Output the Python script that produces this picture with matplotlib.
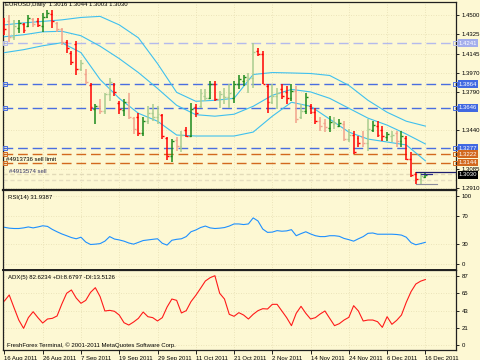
import numpy as np
import matplotlib.pyplot as plt
import matplotlib.transforms as mtransforms

plt.rcParams['font.family'] = ['Liberation Sans', 'DejaVu Sans']

# EURUSD daily, 16 Aug 2011 .. 16 Dec 2011 (bar index 0..88)
opens = [1.4440, 1.4440, 1.4300, 1.4380, 1.4420, 1.4400, 1.4460, 1.4440, 1.4400, 1.4480,
         1.4510, 1.4430, 1.4370, 1.4250, 1.4150, 1.4230, 1.4000, 1.3960, 1.3860, 1.3640,
         1.3660, 1.3620, 1.3770, 1.3860, 1.3690, 1.3630, 1.3700, 1.3550, 1.3560, 1.3420,
         1.3530, 1.3600, 1.3560, 1.3580, 1.3370, 1.3200, 1.3350, 1.3300, 1.3440, 1.3390,
         1.3650, 1.3660, 1.3760, 1.3740, 1.3870, 1.3730, 1.3760, 1.3750, 1.3740, 1.3870,
         1.3890, 1.3900, 1.3920, 1.4170, 1.4140, 1.3850, 1.3700, 1.3760, 1.3820, 1.3790,
         1.3740, 1.3800, 1.3560, 1.3620, 1.3660, 1.3610, 1.3530, 1.3510, 1.3460, 1.3500,
         1.3480, 1.3500, 1.3360, 1.3400, 1.3370, 1.3380, 1.3320, 1.3440, 1.3480, 1.3440,
         1.3380, 1.3390, 1.3420, 1.3340, 1.3370, 1.3180, 1.3040, 1.2990, 1.3016]
highs = [1.4473, 1.4500, 1.4455, 1.4455, 1.4427, 1.4500, 1.4473, 1.4473, 1.4518, 1.4548,
         1.4546, 1.4436, 1.4382, 1.4272, 1.4166, 1.4257, 1.4090, 1.3999, 1.3877, 1.3679,
         1.3725, 1.3786, 1.3923, 1.3877, 1.3710, 1.3725, 1.3786, 1.3558, 1.3603, 1.3558,
         1.3664, 1.3679, 1.3664, 1.3588, 1.3375, 1.3360, 1.3375, 1.3436, 1.3467, 1.3695,
         1.3679, 1.3816, 1.3816, 1.3892, 1.3892, 1.3801, 1.3832, 1.3862, 1.3892, 1.3953,
         1.3953, 1.3968, 1.4242, 1.4196, 1.4166, 1.3862, 1.3862, 1.3832, 1.3862, 1.3847,
         1.3862, 1.3847, 1.3679, 1.3786, 1.3679, 1.3649, 1.3558, 1.3543, 1.3573, 1.3558,
         1.3543, 1.3527, 1.3451, 1.3436, 1.3391, 1.3436, 1.3543, 1.3527, 1.3527, 1.3482,
         1.3421, 1.3436, 1.3436, 1.3436, 1.3391, 1.3239, 1.3056, 1.3056, 1.3044]
lows = [1.4318, 1.4254, 1.4272, 1.4336, 1.4336, 1.4391, 1.4391, 1.4391, 1.4345, 1.4473,
        1.4382, 1.4345, 1.4227, 1.4154, 1.4044, 1.3953, 1.3983, 1.3862, 1.3618, 1.3497,
        1.3588, 1.3588, 1.3710, 1.3755, 1.3588, 1.3573, 1.3543, 1.3406, 1.3391, 1.3391,
        1.3497, 1.3527, 1.3497, 1.3360, 1.3163, 1.3147, 1.3254, 1.3239, 1.3375, 1.3375,
        1.3558, 1.3649, 1.3710, 1.3725, 1.3710, 1.3649, 1.3679, 1.3649, 1.3695, 1.3816,
        1.3847, 1.3786, 1.3832, 1.4120, 1.3862, 1.3603, 1.3679, 1.3634, 1.3725, 1.3679,
        1.3710, 1.3512, 1.3543, 1.3588, 1.3588, 1.3497, 1.3436, 1.3421, 1.3421, 1.3451,
        1.3467, 1.3345, 1.3330, 1.3223, 1.3284, 1.3284, 1.3254, 1.3421, 1.3375, 1.3345,
        1.3345, 1.3330, 1.3284, 1.3284, 1.3163, 1.3011, 1.2950, 1.2950, 1.3003]
closes = [1.4370, 1.4300, 1.4400, 1.4430, 1.4360, 1.4470, 1.4420, 1.4410, 1.4480, 1.4520,
          1.4440, 1.4370, 1.4250, 1.4200, 1.4070, 1.4000, 1.4060, 1.3880, 1.3650, 1.3660,
          1.3620, 1.3770, 1.3880, 1.3790, 1.3640, 1.3700, 1.3560, 1.3450, 1.3420, 1.3530,
          1.3600, 1.3560, 1.3590, 1.3390, 1.3200, 1.3340, 1.3300, 1.3400, 1.3390, 1.3640,
          1.3600, 1.3780, 1.3740, 1.3870, 1.3730, 1.3770, 1.3750, 1.3780, 1.3870, 1.3910,
          1.3930, 1.3920, 1.4160, 1.4140, 1.3870, 1.3700, 1.3760, 1.3780, 1.3760, 1.3740,
          1.3800, 1.3540, 1.3620, 1.3750, 1.3610, 1.3530, 1.3480, 1.3470, 1.3520, 1.3510,
          1.3510, 1.3360, 1.3400, 1.3240, 1.3320, 1.3320, 1.3450, 1.3490, 1.3400, 1.3390,
          1.3410, 1.3400, 1.3340, 1.3390, 1.3180, 1.3030, 1.2990, 1.3020, 1.3030]
# R red, S salmon, G green, P pale green
bar_kinds = "RSPGRGSRGGRSSRRRPSRGSPPRRGSSRGPPPRRGSPRGRPPGRPPPGGGPPRRRPPRRGSPGRRSSGPGSPRRSPGRRGPSGRRRPG"

# bands, read every 4 bars
band_idx = list(range(0, 89, 4))
band_upper = [1.4409, 1.4427, 1.4441, 1.4455, 1.4477, 1.4487, 1.4409, 1.4290, 1.4053, 1.3789,
              1.3707, 1.3716, 1.3734, 1.3953, 1.3971, 1.3967, 1.3962, 1.3944, 1.3853, 1.3716,
              1.3606, 1.3524, 1.3479]
band_mid = [1.4300, 1.4318, 1.4345, 1.4350, 1.4309, 1.4213, 1.4099, 1.3971, 1.3825, 1.3670,
            1.3584, 1.3570, 1.3588, 1.3661, 1.3762, 1.3816, 1.3793, 1.3734, 1.3643, 1.3552,
            1.3488, 1.3406, 1.3315]
band_lower = [1.4154, 1.4181, 1.4217, 1.4245, 1.4154, 1.3907, 1.3734, 1.3597, 1.3524, 1.3397,
              1.3388, 1.3388, 1.3388, 1.3424, 1.3570, 1.3698, 1.3661, 1.3543, 1.3424, 1.3360,
              1.3333, 1.3306, 1.3160]

rsi = [54.0, 52.7, 52.2, 52.2, 53.1, 54.5, 53.1, 54.5, 56.2, 55.3,
       50.9, 47.4, 44.2, 41.6, 38.9, 37.1, 39.4, 32.3, 28.7, 29.2,
       30.0, 33.6, 40.3, 36.7, 35.4, 33.6, 30.9, 29.2, 31.8, 34.5,
       35.4, 36.3, 37.1, 30.5, 27.8, 34.9, 36.3, 37.1, 40.3, 47.4,
       50.0, 53.6, 55.8, 53.1, 52.2, 52.7, 53.6, 55.8, 58.9, 58.9,
       58.0, 58.9, 67.8, 63.3, 51.4, 46.5, 46.9, 49.1, 48.2, 48.7,
       50.5, 41.6, 44.7, 47.4, 44.2, 41.6, 40.3, 40.3, 41.6, 41.6,
       40.7, 37.6, 35.8, 33.6, 37.1, 40.3, 45.1, 45.6, 43.8, 43.8,
       43.8, 43.8, 43.4, 42.5, 39.4, 31.4, 28.3, 30.0, 31.9]
adx = [55.5, 63.1, 47.1, 31.5, 21.0, 34.5, 42.0, 34.5, 27.7, 32.8,
       33.6, 36.6, 51.7, 65.2, 69.4, 59.3, 52.6, 56.3, 66.4, 72.3,
       61.0, 42.9, 43.7, 42.5, 37.8, 28.1, 25.2, 29.0, 33.6, 41.6,
       35.7, 34.5, 30.3, 34.5, 47.9, 58.0, 56.3, 40.4, 43.3, 54.7,
       62.6, 71.5, 80.7, 84.9, 87.4, 65.2, 58.0, 38.7, 36.2, 40.8,
       37.8, 32.8, 38.7, 43.3, 45.8, 45.4, 51.3, 51.3, 42.9, 34.5,
       24.4, 40.0, 48.8, 40.0, 32.8, 34.5, 39.1, 42.9, 33.6, 24.4,
       26.9, 31.5, 34.9, 49.6, 42.9, 30.3, 31.5, 31.5, 29.4, 22.3,
       35.7, 26.1, 31.1, 37.8, 53.8, 67.3, 76.9, 80.5, 82.6]

date_idx = [0, 8, 16, 24, 32, 40, 48, 56, 64, 72, 80, 88]
date_labels = ['16 Aug 2011', '26 Aug 2011', '7 Sep 2011', '19 Sep 2011', '29 Sep 2011',
               '11 Oct 2011', '21 Oct 2011', '2 Nov 2011', '14 Nov 2011', '24 Nov 2011',
               '6 Dec 2011', '16 Dec 2011']
price_ticks = [1.4500, 1.4325, 1.4145, 1.3970, 1.3790, 1.3440, 1.3085, 1.2910]

level_prices = [1.4241, 1.3864, 1.3646, 1.3277, 1.3222, 1.3144]
level_colors = ['#b4baec', '#4a6ee0', '#4a6ee0', '#4a6ee0', '#d2691e', '#d2691e']
box_colors = ['#a3adec', '#4169e1', '#4169e1', '#4169e1', '#d2691e', '#d2691e']
last_price = 1.3030

bg = '#fdf8d3'
grid_c = '#e6ddb2'
FS = 4.3
kind_color = {'R': '#ff0000', 'S': '#f2a28c', 'G': '#1c8a1c', 'P': '#a9cc8e'}

fig = plt.figure(figsize=(4.8, 3.6), dpi=100, facecolor=bg)
L, W = 3 / 480, 453 / 480
ax = fig.add_axes([L, 170 / 360, W, 188 / 360], facecolor=bg)
ax_rsi = fig.add_axes([L, 90 / 360, W, 80 / 360], facecolor=bg)
ax_adx = fig.add_axes([L, 10 / 360, W, 80 / 360], facecolor=bg)

xmin, xmax = -0.3, 94.4
for a in (ax, ax_rsi, ax_adx):
    a.set_xlim(xmin, xmax)
    a.yaxis.tick_right()
    a.tick_params(axis='y', labelsize=FS, length=2, pad=2, width=0.6)
    a.set_xticks(date_idx)
    a.grid(True, color=grid_c, linestyle=(0, (1, 2)), linewidth=0.6)
    a.set_axisbelow(True)
    for s in a.spines.values():
        s.set_color('#202020')
        s.set_linewidth(0.9)
ax.tick_params(axis='x', length=0, labelbottom=False)
ax_rsi.tick_params(axis='x', length=0, labelbottom=False)
ax.spines['bottom'].set_linewidth(1.6)
ax_rsi.spines['bottom'].set_linewidth(1.4)

# --- price panel ---
ax.set_ylim(1.2892, 1.4619)
ax.set_yticks(price_ticks)
ax.set_yticklabels(['%.4f' % p for p in price_ticks])

x = np.arange(len(closes))
cols = [kind_color[k] for k in bar_kinds]
ax.vlines(x, lows, highs, colors=cols, linewidth=1.1, zorder=4)
ax.hlines(opens, x - 0.4, x, colors=cols, linewidth=1.0, zorder=4)
ax.hlines(closes, x, x + 0.4, colors=cols, linewidth=1.0, zorder=4)

for band in (band_upper, band_mid, band_lower):
    ax.plot(band_idx, band, color='#3fc0ee', linewidth=0.8, zorder=3)

ymix = mtransforms.blended_transform_factory(ax.transAxes, ax.transData)
for p, lc, bc in zip(level_prices, level_colors, box_colors):
    ax.axhline(p, color=lc, linewidth=1.0, linestyle=(0, (7, 3.5)), zorder=2)
    ax.plot([0.004, 0.997], [p, p], transform=ymix, linestyle='none', marker='s',
            ms=2.2, mfc='none', mec=lc, mew=0.7, clip_on=False, zorder=5)
    ax.text(1.006, p, '%.4f' % p, transform=ymix, fontsize=FS, color='white',
            ha='left', va='center', clip_on=False,
            bbox=dict(boxstyle='square,pad=0.2', fc=bc, ec='none'))

# order lines
ax.axhline(1.3039, color='#e2dab8', linewidth=1.0, linestyle=(0, (3, 2)), zorder=1)
ax.axhline(1.2984, color='#e6dec0', linewidth=1.0, linestyle=(0, (3, 2)), zorder=1)
ax.plot([86, xmax], [1.3057, 1.3057], color='#1e1e6e', linewidth=0.9, zorder=5)
ax.plot([87, 89.4], [1.3039, 1.3039], color='#2a2a8a', linewidth=0.9, zorder=5)
ax.plot([86, 90.5], [1.2947, 1.2947], color='#8c8c9c', linewidth=0.8, zorder=5)
ax.text(1.006, last_price, '%.4f' % last_price, transform=ymix, fontsize=FS,
        color='white', ha='left', va='center', clip_on=False,
        bbox=dict(boxstyle='square,pad=0.2', fc='black', ec='none'))

ax.text(0.4, 1.3150, '#4913736 sell limit', fontsize=FS, color='black',
        ha='left', va='bottom', zorder=6)
ax.text(1.0, 1.3062, '#4913574 sell', fontsize=FS, color='#333366',
        ha='left', va='center', zorder=6)
ax.text(0.004, 0.985, 'EURUSD,Daily  1.3016 1.3044 1.3003 1.3030', transform=ax.transAxes,
        fontsize=FS, ha='left', va='center')

# --- RSI ---
ax_rsi.set_ylim(-8.8, 108.8)
ax_rsi.set_yticks([0, 30, 70, 100])
ax_rsi.plot(x, rsi, color='#1e90ff', linewidth=0.8)
ax_rsi.text(0.01, 0.91, 'RSI(14) 31.9387', transform=ax_rsi.transAxes,
            fontsize=FS, ha='left', va='center')

# --- ADX ---
ax_adx.set_ylim(-6.3, 94.6)
ax_adx.set_yticks([0, 21, 43, 65, 87])
ax_adx.plot(x, adx, color='#ff1a1a', linewidth=0.8)
ax_adx.text(0.01, 0.91, 'ADX(5) 82.6234 +DI:8.6797 -DI:13.5126', transform=ax_adx.transAxes,
            fontsize=FS, ha='left', va='center')
ax_adx.text(0.008, 0.06, 'FreshForex Terminal, \u00a9 2001-2011 MetaQuotes Software Corp.',
            transform=ax_adx.transAxes, fontsize=FS, ha='left', va='center')
ax_adx.set_xticklabels(date_labels, fontsize=FS, ha='left')
ax_adx.tick_params(axis='x', length=3, width=0.6, pad=1)

fig.savefig('out.png', dpi=100, facecolor=bg)
